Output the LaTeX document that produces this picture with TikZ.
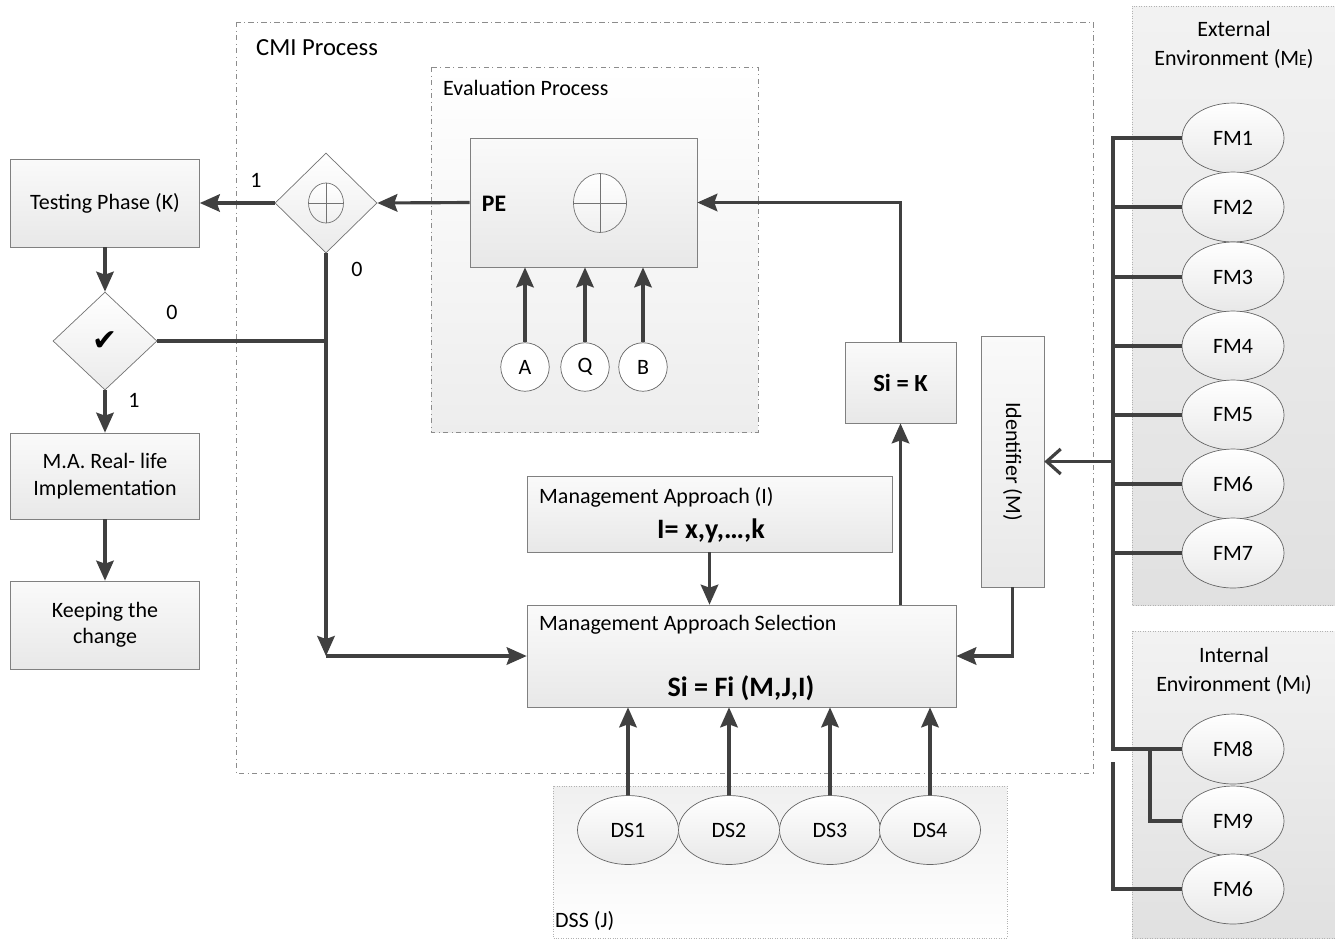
\documentclass[tikz,border=0pt]{standalone}
\usepackage{fontspec}
\setmainfont{Carlito}
\newfontfamily\symfont{DejaVu Sans}
\usetikzlibrary{positioning,shapes.geometric,arrows.meta}

\begin{document}
\begin{tikzpicture}[x=0.02cm,y=-0.02cm,font=\fontsize{12.5}{15}\selectfont,
    wire/.style={draw=black!75,line width=1.8pt},
    arr/.style={wire,-{Stealth[length=4mm,width=3.5mm,inset=0.6mm]}},
    box/.style={draw=black!50,top color=black!2,bottom color=black!9,align=center,inner sep=0pt},
    region/.style={draw=black!45,dash dot},
    envbox/.style={draw=black!30,densely dotted,top color=black!5,bottom color=black!12},
    decision/.style={diamond,draw=black!55,top color=white,bottom color=black!8,inner sep=0pt},
    oval/.style={ellipse,draw=black!60,top color=white,bottom color=black!9,inner sep=0pt},
    inp/.style={circle,draw=black!60,fill=white,minimum size=0.97cm,inner sep=0pt},
    xsym/.style={ellipse,draw=black!55,top color=white,bottom color=black!6,inner sep=0pt}]
  \useasboundingbox (0,0) rectangle (1335,938);
  % CMI process frame
  \draw[region] (236,22) rectangle (1093,773);
  \node[anchor=west,font=\fontsize{14}{17}\selectfont] (cmi) at (250,48) {CMI Process};
  % evaluation process frame
  \draw[region,top color=white,bottom color=black!7] (431,67) rectangle (758,432);
  \node[anchor=west] (eval) at (437,88) {Evaluation Process};
  % environments
  \draw[envbox] (1132,6) rectangle (1335,605);
  \node[align=center,font=\fontsize{12.5}{16.5}\selectfont] (ext) at (1234,45) {External\\Environment (M{\fontsize{9}{10}\selectfont E})};
  \draw[envbox] (1132,631) rectangle (1335,938);
  \node[align=center,font=\fontsize{12.5}{16.5}\selectfont] (int) at (1234,671) {Internal\\Environment (M{\fontsize{9}{10}\selectfont I})};
  % DSS frame
  \draw[envbox,top color=black!6,bottom color=white] (553,786) rectangle (1007,938);
  \node[anchor=west] (dss) at (549,921) {DSS (J)};

  % left column
  \node[box,minimum width=3.78cm,minimum height=1.76cm] (test) at (105,203) {Testing Phase (K)};
  \node[decision,minimum width=2.08cm,minimum height=1.96cm] (check) at (105,341) {\symfont\fontsize{17}{17}\selectfont ✔};
  \node[box,minimum width=3.78cm,minimum height=1.72cm] (real) at (105,476) {M.A. Real- life\\Implementation};
  \node[box,minimum width=3.78cm,minimum height=1.76cm] (keep) at (105,625) {Keeping the\\change};
  \node (lbl1) at (256,180) {1};
  \node (lbl2) at (357,269) {0};
  \node (lbl3) at (172,312) {0};
  \node (lbl4) at (134,400) {1};

  % XOR gate
  \node[decision,minimum width=2.04cm,minimum height=2cm] (xor) at (326,203) {};
  \node[xsym,minimum width=0.7cm,minimum height=0.8cm] (xorsym) at (326,203) {};
  \draw[black!55] (xorsym.north) -- (xorsym.south) (xorsym.west) -- (xorsym.east);

  % PE
  \node[box,minimum width=4.54cm,minimum height=2.58cm] (pe) at (583.5,202.5) {};
  \node (pelbl) at (494,204) {\fontsize{13.5}{16}\selectfont\bfseries PE};
  \node[xsym,minimum width=1.06cm,minimum height=1.18cm] (pesym) at (600,203) {};
  \draw[black!55] (pesym.north) -- (pesym.south) (pesym.west) -- (pesym.east);
  \node[inp] (a) at (525,367) {A};
  \node[inp] (q) at (585,367) {Q};
  \node[inp] (b) at (643,367) {B};

  % Si = K and identifier
  \node[box,minimum width=2.22cm,minimum height=1.62cm] (sik) at (900.5,382.5) {\fontsize{14}{17}\selectfont\bfseries Si = K};
  \node[box,minimum width=1.26cm,minimum height=5.02cm] (ident) at (1012.5,461.5) {\rotatebox{-90}{Identifier (M)}};

  % management approach
  \node[box,minimum width=7.3cm,minimum height=1.52cm] (ma) at (709.5,514) {};
  \node[anchor=west] (malbl) at (533,497) {Management Approach (I)};
  \node (maeq) at (711,531) {\fontsize{16}{19}\selectfont\bfseries I= x,y,…,k};
  \node[box,minimum width=8.58cm,minimum height=2.04cm] (mas) at (741.5,656) {};
  \node[anchor=west] (maslbl) at (533,625) {Management Approach Selection};
  \node (maseq) at (741,688) {\fontsize{16}{19}\selectfont\bfseries Si = Fi (M,J,I)};

  % DS
  \node[oval,minimum width=2.02cm,minimum height=1.38cm] (ds1) at (628,830) {DS1};
  \node[oval,minimum width=2.02cm,minimum height=1.38cm] (ds2) at (729,830) {DS2};
  \node[oval,minimum width=2.02cm,minimum height=1.38cm] (ds3) at (830,830) {DS3};
  \node[oval,minimum width=2.02cm,minimum height=1.38cm] (ds4) at (930,830) {DS4};

  % FM
  \node[oval,minimum width=2.04cm,minimum height=1.4cm] (fm1) at (1233,138) {FM1};
  \node[oval,minimum width=2.04cm,minimum height=1.4cm] (fm2) at (1233,207) {FM2};
  \node[oval,minimum width=2.04cm,minimum height=1.4cm] (fm3) at (1233,277) {FM3};
  \node[oval,minimum width=2.04cm,minimum height=1.4cm] (fm4) at (1233,346) {FM4};
  \node[oval,minimum width=2.04cm,minimum height=1.4cm] (fm5) at (1233,415) {FM5};
  \node[oval,minimum width=2.04cm,minimum height=1.4cm] (fm6) at (1233,484) {FM6};
  \node[oval,minimum width=2.04cm,minimum height=1.4cm] (fm7) at (1233,553) {FM7};
  \node[oval,minimum width=2.04cm,minimum height=1.4cm] (fm8) at (1233,749) {FM8};
  \node[oval,minimum width=2.04cm,minimum height=1.4cm] (fm9) at (1233,821) {FM9};
  \node[oval,minimum width=2.04cm,minimum height=1.4cm] (fmx) at (1233,889) {FM6};

  % connectors
  \draw[arr] (pe.west) -- (xor.east);
  \draw[arr] (xor.west) -- (test.east);
  \draw[arr] (test.south) -- (check.north);
  \draw[arr] (check.south) -- (real.north);
  \draw[arr] (real.south) -- (keep.north);
  \coordinate (bend) at (xor.south |- mas.west);
  \draw[arr] (xor.south) -- (bend);
  \draw[arr] (bend) -- (mas.west);
  \draw[wire] (check.east) -- (check.east -| xor.south);
  \draw[arr] (a.north) -- (a.north |- pe.south);
  \draw[arr] (q.north) -- (q.north |- pe.south);
  \draw[arr] (b.north) -- (b.north |- pe.south);
  \draw[arr] (ma.south) -- (ma.south |- mas.north);
  \draw[arr] (sik.south |- mas.north) -- (sik.south);
  \draw[arr] (sik.north) |- (pe.east);
  \draw[arr] (ident.south) |- (mas.east);
  \draw[arr] (ds1.north) -- (ds1.north |- mas.south);
  \draw[arr] (ds2.north) -- (ds2.north |- mas.south);
  \draw[arr] (ds3.north) -- (ds3.north |- mas.south);
  \draw[arr] (ds4.north) -- (ds4.north |- mas.south);

  % environment trunk
  \coordinate (tbot) at (1113,749);
  \draw[wire] (fm1.west) -| (tbot) -- (fm8.west);
  \draw[wire] (fm2.west) -- (fm2.west -| tbot);
  \draw[wire] (fm3.west) -- (fm3.west -| tbot);
  \draw[wire] (fm4.west) -- (fm4.west -| tbot);
  \draw[wire] (fm5.west) -- (fm5.west -| tbot);
  \draw[wire] (fm6.west) -- (fm6.west -| tbot);
  \draw[wire] (fm7.west) -- (fm7.west -| tbot);
  \coordinate (fork) at (1150,749);
  \draw[wire] (fork) |- (fm9.west);
  \coordinate (tlow) at (1113,762);
  \draw[wire] (tlow) |- (fmx.west);
  \draw[wire,-{Straight Barb[length=2.8mm,width=5mm]}] (ident.east -| tbot) -- (ident.east);
\end{tikzpicture}
\end{document}
